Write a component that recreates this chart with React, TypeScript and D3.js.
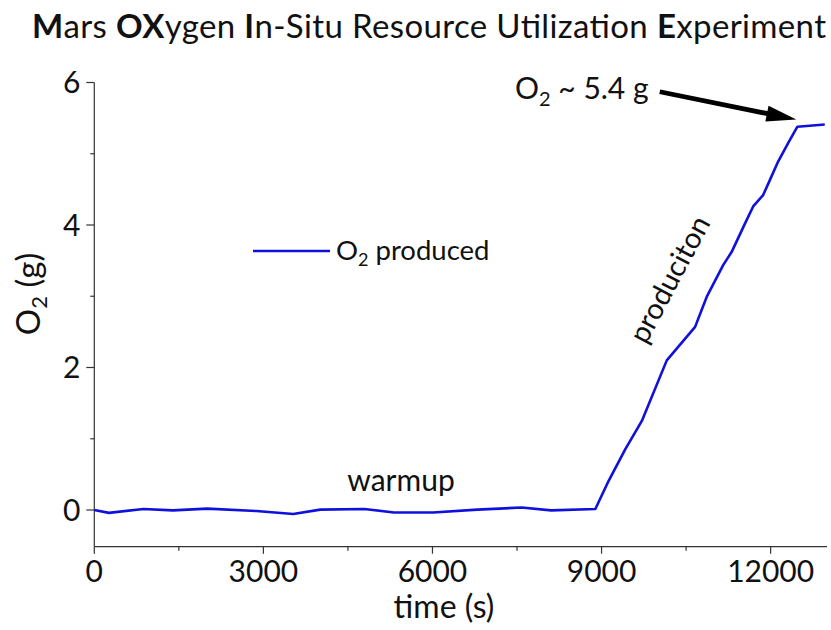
import { useEffect, useRef } from "react"
import * as d3 from "d3"

// time (s)
const times = [
  0, 261, 871, 1394, 2004, 2876, 3530, 4009, 4793, 5316, 6013, 6797, 7582, 8105, 8890,
  9126, 9422, 9715, 10157, 10660, 10865, 11160, 11307, 11544, 11690, 11867, 11986, 12133,
  12310, 12475, 12960,
]
// O2 produced (g)
const o2 = [
  0, -0.04, 0.015, -0.005, 0.02, -0.015, -0.055, 0.005, 0.015, -0.035, -0.035, 0.005, 0.035,
  -0.005, 0.015, 0.41, 0.855, 1.25, 2.1, 2.57, 2.99, 3.44, 3.62, 4.02, 4.26, 4.42, 4.63, 4.89,
  5.15, 5.38, 5.41,
]
const xTicks = [0, 3000, 6000, 9000, 12000]
const xMinor = [1500, 4500, 7500, 10500]
const yTicks = [0, 2, 4, 6]
const yMinor = [1, 3, 5]

const FONT = "Lato, 'Open Sans', sans-serif"

export default function App() {
  const svgRef = useRef<SVGSVGElement>(null)

  useEffect(() => {
    if (!svgRef.current) return
    const svg = d3.select(svgRef.current)
    svg.selectAll("*").remove()

    const x = d3.scaleLinear().domain([0, 13000]).range([94.3, 827])
    const y = d3.scaleLinear().domain([-0.515, 6]).range([546.7, 82.5])
    const ink = "#111"
    const blue = "#1010dc"

    // title
    const title = svg
      .append("text")
      .attr("x", 32)
      .attr("y", 38)
      .attr("textLength", 794)
      .attr("lengthAdjust", "spacing")
      .attr("font-family", FONT)
      .attr("font-size", 33)
      .attr("fill", ink)
    const parts: [string, boolean][] = [
      ["M", true], ["ars ", false], ["OX", true], ["ygen ", false], ["I", true],
      ["n-Situ Resource Utilization ", false], ["E", true], ["xperiment", false],
    ]
    parts.forEach(([t, b]) => {
      title.append("tspan").attr("font-weight", b ? 700 : 400).text(t)
    })

    // axes
    const g = svg.append("g").attr("stroke", "#333").attr("stroke-width", 1.2)
    g.append("line").attr("x1", x(0)).attr("x2", x(0)).attr("y1", y(6)).attr("y2", y(-0.515))
    g.append("line").attr("x1", x(0)).attr("x2", x(13000)).attr("y1", y(-0.515)).attr("y2", y(-0.515))
    xTicks.forEach((t) => {
      g.append("line").attr("x1", x(t)).attr("x2", x(t)).attr("y1", y(-0.515)).attr("y2", y(-0.515) + 7)
    })
    xMinor.forEach((t) => {
      g.append("line").attr("x1", x(t)).attr("x2", x(t)).attr("y1", y(-0.515)).attr("y2", y(-0.515) + 4)
    })
    yTicks.forEach((v) => {
      g.append("line").attr("x1", x(0) - 8).attr("x2", x(0)).attr("y1", y(v)).attr("y2", y(v))
    })
    yMinor.forEach((v) => {
      g.append("line").attr("x1", x(0) - 4).attr("x2", x(0)).attr("y1", y(v)).attr("y2", y(v))
    })

    const labels = svg.append("g").attr("font-family", FONT).attr("fill", ink)
    xTicks.forEach((t) => {
      labels
        .append("text")
        .attr("x", x(t))
        .attr("y", 582)
        .attr("text-anchor", "middle")
        .attr("font-size", 30)
        .text(t)
    })
    yTicks.forEach((v) => {
      labels
        .append("text")
        .attr("x", x(0) - 14)
        .attr("y", y(v) + 10.5)
        .attr("text-anchor", "end")
        .attr("font-size", 30)
        .text(v)
    })

    labels
      .append("text")
      .attr("x", 444)
      .attr("y", 618)
      .attr("text-anchor", "middle")
      .attr("font-size", 32)
      .text("time (s)")

    const yl = labels
      .append("text")
      .attr("transform", `translate(40,294) rotate(-90)`)
      .attr("text-anchor", "middle")
      .attr("font-size", 33)
    yl.append("tspan").text("O")
    yl.append("tspan").attr("font-size", 22).attr("dy", 7).text("2")
    yl.append("tspan").attr("dy", -7).text(" (g)")

    // series
    const pts = times.map((t, i) => [t, o2[i]] as [number, number])
    const line = d3
      .line<[number, number]>()
      .x((d) => x(d[0]))
      .y((d) => y(d[1]))
    svg
      .append("path")
      .datum(pts)
      .attr("fill", "none")
      .attr("stroke", blue)
      .attr("stroke-width", 2.6)
      .attr("stroke-linejoin", "round")
      .attr("d", line)

    // legend
    svg
      .append("line")
      .attr("x1", 253)
      .attr("x2", 330)
      .attr("y1", 251)
      .attr("y2", 251)
      .attr("stroke", blue)
      .attr("stroke-width", 2.6)
    const lt = labels.append("text").attr("x", 336).attr("y", 260).attr("font-size", 27.5)
    lt.append("tspan").text("O")
    lt.append("tspan").attr("font-size", 18).attr("dy", 6).text("2")
    lt.append("tspan").attr("dy", -6).text(" produced")

    // annotations
    labels
      .append("text")
      .attr("x", 401)
      .attr("y", 491)
      .attr("text-anchor", "middle")
      .attr("font-size", 30)
      .text("warmup")

    labels
      .append("text")
      .attr("transform", `translate(${x(10400) - 2},${y(3.2) + 2}) rotate(-62)`)
      .attr("text-anchor", "middle")
      .attr("font-size", 29)
      .text("produciton")

    const at = labels.append("text").attr("x", 515).attr("y", 99).attr("font-size", 30)
    at.append("tspan").text("O")
    at.append("tspan").attr("font-size", 20).attr("dy", 7).text("2")
    at.append("tspan").attr("dy", -7).text(" ~ 5.4 g")

    // arrow
    const x0 = x(10033), y0 = y(5.87)
    const x1 = x(12456), y1 = y(5.48)
    const ang = Math.atan2(y1 - y0, x1 - x0)
    const hl = 30, hw = 8
    const bx = x1 - hl * Math.cos(ang), by = y1 - hl * Math.sin(ang)
    svg
      .append("line")
      .attr("x1", x0)
      .attr("y1", y0)
      .attr("x2", bx + 2 * Math.cos(ang))
      .attr("y2", by + 2 * Math.sin(ang))
      .attr("stroke", "#000")
      .attr("stroke-width", 4.8)
    svg
      .append("polygon")
      .attr(
        "points",
        [
          [x1, y1],
          [bx + hw * Math.sin(ang), by - hw * Math.cos(ang)],
          [bx - hw * Math.sin(ang), by + hw * Math.cos(ang)],
        ]
          .map((p) => p.join(","))
          .join(" "),
      )
      .attr("fill", "#000")
  }, [])

  return (
    <svg
      ref={svgRef}
      width={831}
      height={630}
      style={{ position: "absolute", left: 0, top: 0, background: "#fff" }}
    />
  )
}
